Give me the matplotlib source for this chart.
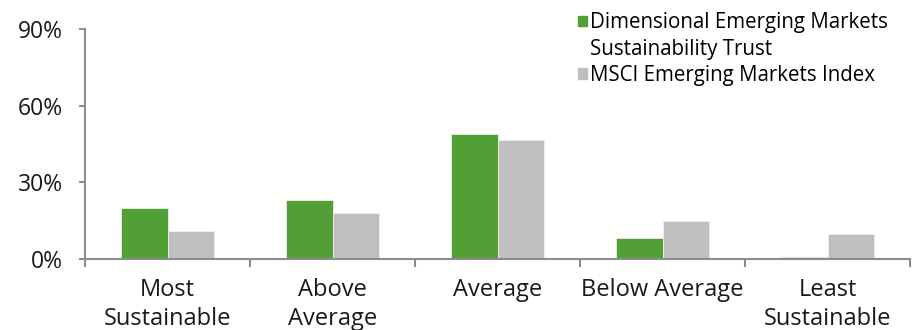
import numpy as np
import matplotlib.pyplot as plt
from matplotlib.patches import Patch
from matplotlib.ticker import FixedLocator

categories = ["Most\nSustainable", "Above\nAverage", "Average", "Below Average", "Least\nSustainable"]
trust = [19.8, 23.1, 48.9, 8.0, 0.5]
index = [11.0, 18.1, 46.6, 14.8, 9.6]
series_names = ["Dimensional Emerging Markets\nSustainability Trust", "MSCI Emerging Markets Index"]
yticks = [0, 30, 60, 90]

green = "#52A035"
grey = "#BFBFBF"
axis_col = "#8C8C8C"

plt.rcParams['font.family'] = ['Open Sans', 'DejaVu Sans']

fig = plt.figure(figsize=(9.15, 3.3), dpi=100)
ax = fig.add_axes([85 / 915, (330 - 258.7) / 330, 825 / 915, 229.7 / 330])

x = np.arange(len(categories))
w = 0.282
b1 = ax.bar(x - w / 2, trust, w, color=green, edgecolor="#E8F0E4", linewidth=0.6)
b2 = ax.bar(x + w / 2, index, w, color=grey, edgecolor="#EFEFEF", linewidth=0.6)

ax.set_xlim(-0.5, len(categories) - 0.5)
ax.set_ylim(0, 90)
ax.set_yticks(yticks)
ax.set_yticklabels([f"{v}%" for v in yticks], fontsize=16.5, color="#1a1a1a")

ax.set_xticks(x)
ax.set_xticklabels(categories, fontsize=17, color="#1a1a1a", linespacing=1.25)
ax.xaxis.set_minor_locator(FixedLocator(np.arange(-0.5, len(categories), 1.0)))
ax.tick_params(axis='x', which='major', length=0, pad=14)
ax.tick_params(axis='x', which='minor', length=6, width=1.5, color=axis_col)
ax.tick_params(axis='y', length=4, width=1.5, color=axis_col, pad=12)

for s in ["top", "right"]:
    ax.spines[s].set_visible(False)
for s in ["left", "bottom"]:
    ax.spines[s].set_color(axis_col)
    ax.spines[s].set_linewidth(1.5)

# legend: the square sits next to the first line of a wrapped label
first, second = series_names[0].split("\n")
handles = [Patch(color=green), Patch(color="none"), Patch(color=grey)]
labels = [first, second, series_names[1]]
leg = fig.legend(handles=handles, labels=labels, loc="upper left",
                 bbox_to_anchor=(566 / 915, 1.0), frameon=False, fontsize=14.8,
                 handlelength=0.42, handleheight=0.42, handletextpad=0.15,
                 labelspacing=0.26, borderpad=0.1)

fig.savefig("out.png", dpi=100)
